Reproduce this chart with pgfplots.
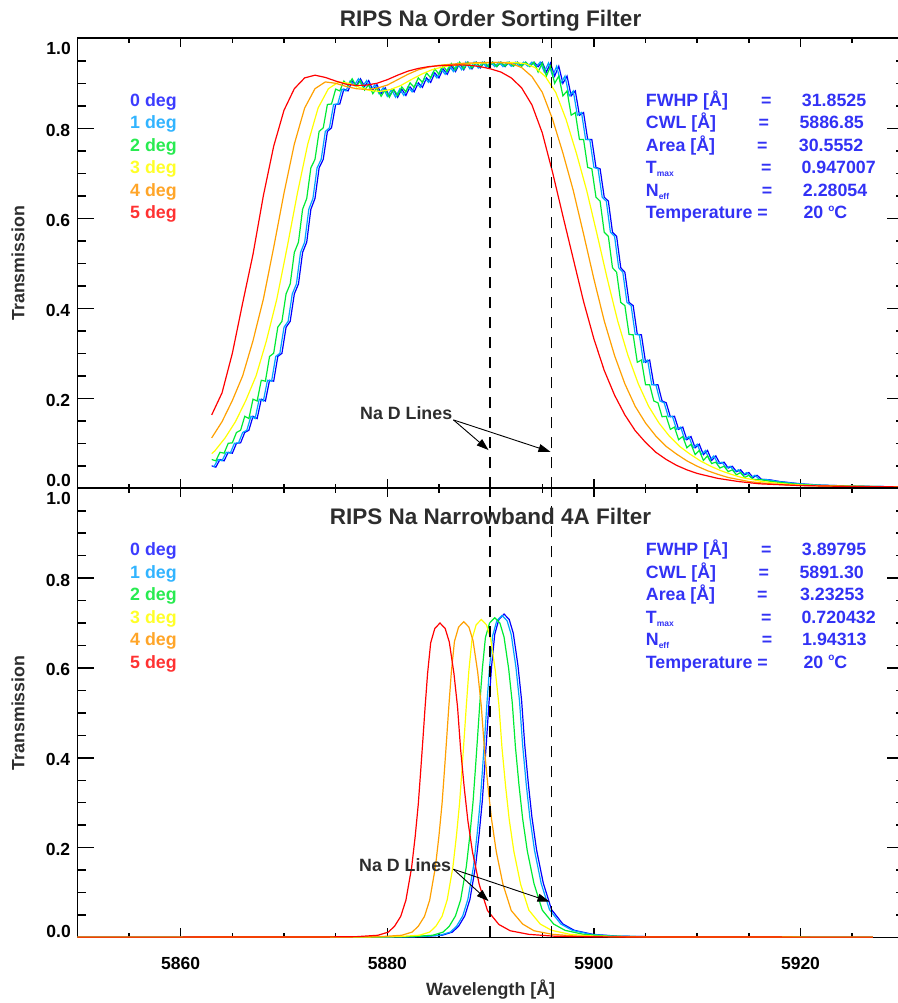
\documentclass[border=0pt]{standalone}
\usepackage{pgfplots}
\pgfplotsset{compat=1.18}
\usetikzlibrary{arrows.meta}
\usepackage{fontspec}
\setmainfont{Liberation Sans}
\definecolor{c0}{RGB}{0,0,255}
\definecolor{c1}{RGB}{0,165,255}
\definecolor{c2}{RGB}{0,235,50}
\definecolor{c3}{RGB}{255,255,0}
\definecolor{c4}{RGB}{255,160,0}
\definecolor{c5}{RGB}{255,0,0}
\definecolor{t0}{RGB}{60,60,255}
\definecolor{t1}{RGB}{50,180,255}
\definecolor{t2}{RGB}{40,235,80}
\definecolor{t3}{RGB}{255,255,40}
\definecolor{t4}{RGB}{255,165,40}
\definecolor{t5}{RGB}{255,50,50}
\definecolor{info}{RGB}{50,50,245}
\definecolor{dk}{RGB}{45,45,45}
\newcommand{\tfont}{\fontsize{17.5}{18}\selectfont\bfseries}
\newcommand{\lfont}{\fontsize{17.8}{19}\selectfont\bfseries}
\newcommand{\sfont}{\fontsize{8.5}{9}\selectfont\bfseries}
\newcommand{\degsym}{\raisebox{0.42em}{\fontsize{10}{10}\selectfont o}}

\pgfplotsset{
  rips/.style={
    scale only axis, width=826.4pt,
    xmin=5850, xmax=5930, ymin=0, ymax=1,
    clip=false,
    axis line style={line width=1.8pt, black},
    tick style={line width=1.5pt, black},
    major tick length=16.7pt, minor tick length=8.3pt,
    xtick style={/pgfplots/major tick length=9pt, /pgfplots/minor tick length=4.5pt},
    xtick={5860,5880,5900,5920},
    minor xtick={5855,5865,5870,5875,5885,5890,5895,5905,5910,5915,5925},
    ytick={0.2,0.4,0.6,0.8},
    yticklabels={0.2,0.4,0.6,0.8},
    minor ytick={0.05,0.1,0.15,0.25,0.3,0.35,0.45,0.5,0.55,0.65,0.7,0.75,0.85,0.9,0.95},
    yticklabel style={font=\tfont, inner sep=0pt, anchor=east, xshift=-7pt, yshift=-2pt},
    xticklabel style={font=\tfont, inner sep=0pt, anchor=base, yshift=-32.5pt},
    every axis plot/.append style={line width=1.2pt},
  }
}

\begin{document}
\begin{tikzpicture}[x=1pt,y=1pt]
\useasboundingbox (0,0) rectangle (897,1003);

% ---------------- Top panel ----------------
\begin{axis}[rips, at={(77.4pt,514.7pt)}, anchor=south west, height=450pt, xticklabels={}]
\addplot[c0] table {
5863.0 0.050
5863.4 0.047
5863.8 0.064
5864.2 0.061
5864.6 0.080
5865.0 0.078
5865.4 0.100
5865.8 0.101
5866.2 0.124
5866.6 0.129
5867.0 0.160
5867.4 0.155
5867.8 0.198
5868.2 0.194
5868.6 0.240
5869.0 0.238
5869.4 0.293
5869.8 0.300
5870.2 0.358
5870.6 0.371
5871.0 0.432
5871.4 0.454
5871.8 0.524
5872.2 0.547
5872.6 0.620
5873.0 0.644
5873.4 0.712
5873.8 0.731
5874.2 0.793
5874.6 0.801
5875.0 0.853
5875.4 0.854
5875.8 0.887
5876.2 0.883
5876.6 0.905
5877.0 0.895
5877.4 0.910
5877.8 0.893
5878.2 0.906
5878.6 0.885
5879.0 0.897
5879.4 0.877
5879.8 0.890
5880.2 0.871
5880.6 0.886
5881.0 0.869
5881.4 0.887
5881.8 0.873
5882.2 0.892
5882.6 0.881
5883.0 0.901
5883.4 0.891
5883.8 0.912
5884.2 0.902
5884.6 0.923
5885.0 0.912
5885.4 0.932
5885.8 0.920
5886.2 0.939
5886.6 0.926
5887.0 0.944
5887.4 0.930
5887.8 0.947
5888.2 0.932
5888.6 0.947
5889.0 0.934
5889.4 0.947
5889.8 0.936
5890.2 0.947
5890.6 0.937
5891.0 0.947
5891.4 0.937
5891.8 0.947
5892.2 0.938
5892.6 0.947
5893.0 0.938
5893.4 0.947
5893.8 0.938
5894.2 0.947
5894.6 0.937
5895.0 0.947
5895.4 0.925
5895.8 0.945
5896.2 0.916
5896.6 0.938
5897.0 0.900
5897.4 0.916
5897.8 0.872
5898.2 0.883
5898.6 0.829
5899.0 0.835
5899.4 0.775
5899.8 0.775
5900.2 0.713
5900.6 0.710
5901.0 0.647
5901.4 0.638
5901.8 0.569
5902.2 0.560
5902.6 0.490
5903.0 0.480
5903.4 0.413
5903.8 0.406
5904.2 0.342
5904.6 0.341
5905.0 0.280
5905.4 0.285
5905.8 0.230
5906.2 0.230
5906.6 0.194
5907.0 0.190
5907.4 0.159
5907.8 0.160
5908.2 0.131
5908.6 0.136
5909.0 0.108
5909.4 0.115
5909.8 0.090
5910.2 0.098
5910.6 0.075
5911.0 0.084
5911.4 0.062
5911.8 0.072
5912.2 0.055
5912.6 0.058
5913.0 0.045
5913.4 0.049
5913.8 0.037
5914.2 0.041
5914.6 0.030
5915.0 0.035
5915.4 0.024
5915.8 0.029
5916.2 0.020
5917.0 0.019
5918.0 0.015
5920.0 0.010
5922.0 0.007
5925.0 0.005
5930.0 0.003
};
\addplot[c1] table {
5863.2 0.047
5863.6 0.064
5864.0 0.061
5864.4 0.080
5864.8 0.078
5865.2 0.100
5865.6 0.101
5866.0 0.124
5866.4 0.129
5866.8 0.160
5867.2 0.155
5867.6 0.198
5868.0 0.194
5868.4 0.240
5868.8 0.238
5869.2 0.293
5869.6 0.300
5870.0 0.358
5870.4 0.371
5870.8 0.432
5871.2 0.454
5871.6 0.524
5872.0 0.547
5872.4 0.620
5872.8 0.644
5873.2 0.712
5873.6 0.731
5874.0 0.793
5874.4 0.801
5874.8 0.853
5875.2 0.854
5875.6 0.887
5876.0 0.883
5876.4 0.905
5876.8 0.895
5877.2 0.910
5877.6 0.893
5878.0 0.906
5878.4 0.885
5878.8 0.897
5879.2 0.877
5879.6 0.890
5880.0 0.871
5880.4 0.886
5880.8 0.869
5881.2 0.887
5881.6 0.873
5882.0 0.892
5882.4 0.881
5882.8 0.901
5883.2 0.891
5883.6 0.912
5884.0 0.902
5884.4 0.923
5884.8 0.912
5885.2 0.932
5885.6 0.920
5886.0 0.939
5886.4 0.926
5886.8 0.944
5887.2 0.930
5887.6 0.947
5888.0 0.932
5888.4 0.947
5888.8 0.934
5889.2 0.947
5889.6 0.936
5890.0 0.947
5890.4 0.937
5890.8 0.947
5891.2 0.937
5891.6 0.947
5892.0 0.938
5892.4 0.947
5892.8 0.938
5893.2 0.947
5893.6 0.938
5894.0 0.947
5894.4 0.937
5894.8 0.947
5895.2 0.925
5895.6 0.945
5896.0 0.916
5896.4 0.938
5896.8 0.900
5897.2 0.916
5897.6 0.872
5898.0 0.883
5898.4 0.829
5898.8 0.835
5899.2 0.775
5899.6 0.775
5900.0 0.713
5900.4 0.710
5900.8 0.647
5901.2 0.638
5901.6 0.569
5902.0 0.560
5902.4 0.490
5902.8 0.480
5903.2 0.413
5903.6 0.406
5904.0 0.342
5904.4 0.341
5904.8 0.280
5905.2 0.285
5905.6 0.230
5906.0 0.230
5906.4 0.194
5906.8 0.190
5907.2 0.159
5907.6 0.160
5908.0 0.131
5908.4 0.136
5908.8 0.108
5909.2 0.115
5909.6 0.090
5910.0 0.098
5910.4 0.075
5910.8 0.084
5911.2 0.062
5911.6 0.072
5912.0 0.055
5912.4 0.058
5912.8 0.045
5913.2 0.049
5913.6 0.037
5914.0 0.041
5914.4 0.030
5914.8 0.035
5915.2 0.024
5915.6 0.029
5916.0 0.020
5916.8 0.019
5917.8 0.015
5919.8 0.010
5921.8 0.007
5924.8 0.005
5930.0 0.003
};
\addplot[c2] table {
5863.0 0.064
5863.4 0.061
5863.8 0.080
5864.2 0.078
5864.6 0.100
5865.0 0.101
5865.4 0.124
5865.8 0.129
5866.2 0.160
5866.6 0.155
5867.0 0.198
5867.4 0.194
5867.8 0.240
5868.2 0.238
5868.6 0.293
5869.0 0.300
5869.4 0.358
5869.8 0.371
5870.2 0.432
5870.6 0.454
5871.0 0.524
5871.4 0.547
5871.8 0.620
5872.2 0.644
5872.6 0.712
5873.0 0.731
5873.4 0.793
5873.8 0.801
5874.2 0.853
5874.6 0.854
5875.0 0.887
5875.4 0.883
5875.8 0.905
5876.2 0.895
5876.6 0.910
5877.0 0.893
5877.4 0.906
5877.8 0.885
5878.2 0.897
5878.6 0.877
5879.0 0.890
5879.4 0.871
5879.8 0.886
5880.2 0.869
5880.6 0.887
5881.0 0.873
5881.4 0.892
5881.8 0.881
5882.2 0.901
5882.6 0.891
5883.0 0.912
5883.4 0.902
5883.8 0.923
5884.2 0.912
5884.6 0.932
5885.0 0.920
5885.4 0.939
5885.8 0.926
5886.2 0.944
5886.6 0.930
5887.0 0.947
5887.4 0.932
5887.8 0.947
5888.2 0.934
5888.6 0.947
5889.0 0.936
5889.4 0.947
5889.8 0.937
5890.2 0.947
5890.6 0.937
5891.0 0.947
5891.4 0.938
5891.8 0.947
5892.2 0.938
5892.6 0.947
5893.0 0.938
5893.4 0.947
5893.8 0.937
5894.2 0.947
5894.6 0.925
5895.0 0.945
5895.4 0.916
5895.8 0.938
5896.2 0.900
5896.6 0.916
5897.0 0.872
5897.4 0.883
5897.8 0.829
5898.2 0.835
5898.6 0.775
5899.0 0.775
5899.4 0.713
5899.8 0.710
5900.2 0.647
5900.6 0.638
5901.0 0.569
5901.4 0.560
5901.8 0.490
5902.2 0.480
5902.6 0.413
5903.0 0.406
5903.4 0.342
5903.8 0.341
5904.2 0.280
5904.6 0.285
5905.0 0.230
5905.4 0.230
5905.8 0.194
5906.2 0.190
5906.6 0.159
5907.0 0.160
5907.4 0.131
5907.8 0.136
5908.2 0.108
5908.6 0.115
5909.0 0.090
5909.4 0.098
5909.8 0.075
5910.2 0.084
5910.6 0.062
5911.0 0.072
5911.4 0.055
5911.8 0.058
5912.2 0.045
5912.6 0.049
5913.0 0.037
5913.4 0.041
5913.8 0.030
5914.2 0.035
5914.6 0.024
5915.0 0.029
5915.4 0.020
5916.2 0.019
5917.2 0.015
5919.2 0.010
5921.2 0.007
5924.2 0.005
5930.0 0.003
};
\addplot[c3] table {
5863.0 0.077
5863.3 0.083
5864.3 0.112
5865.3 0.148
5866.3 0.195
5867.3 0.250
5868.3 0.328
5869.3 0.420
5870.3 0.535
5871.3 0.656
5872.3 0.765
5873.3 0.845
5874.3 0.888
5875.3 0.903
5876.3 0.900
5877.3 0.891
5878.3 0.884
5879.3 0.882
5880.3 0.886
5881.3 0.895
5882.3 0.908
5883.3 0.920
5884.3 0.930
5885.3 0.936
5886.3 0.940
5887.3 0.942
5888.3 0.944
5890.3 0.946
5892.3 0.946
5893.3 0.944
5894.3 0.935
5895.3 0.915
5896.3 0.880
5897.3 0.820
5898.3 0.745
5899.3 0.662
5900.3 0.565
5901.3 0.465
5902.3 0.372
5903.3 0.295
5904.3 0.232
5905.3 0.182
5906.3 0.145
5907.3 0.116
5908.3 0.093
5909.3 0.076
5910.3 0.061
5911.3 0.049
5912.3 0.039
5913.3 0.031
5914.3 0.024
5916.3 0.015
5918.3 0.010
5920.3 0.007
5923.3 0.005
5930.0 0.003
};
\addplot[c4] table {
5863.0 0.112
5864.0 0.148
5865.0 0.195
5866.0 0.250
5867.0 0.328
5868.0 0.420
5869.0 0.535
5870.0 0.656
5871.0 0.765
5872.0 0.845
5873.0 0.888
5874.0 0.903
5875.0 0.900
5876.0 0.893
5877.0 0.888
5878.0 0.886
5879.0 0.889
5880.0 0.896
5881.0 0.908
5882.0 0.920
5883.0 0.930
5884.0 0.936
5885.0 0.940
5886.0 0.942
5887.0 0.944
5889.0 0.946
5891.0 0.946
5892.0 0.944
5893.0 0.935
5894.0 0.915
5895.0 0.880
5896.0 0.820
5897.0 0.745
5898.0 0.662
5899.0 0.565
5900.0 0.465
5901.0 0.372
5902.0 0.295
5903.0 0.232
5904.0 0.182
5905.0 0.145
5906.0 0.116
5907.0 0.093
5908.0 0.076
5909.0 0.061
5910.0 0.049
5911.0 0.039
5912.0 0.031
5913.0 0.024
5915.0 0.015
5917.0 0.010
5919.0 0.007
5922.0 0.005
5930.0 0.003
};
\addplot[c5] table {
5863.0 0.163
5864.0 0.212
5865.0 0.300
5866.0 0.412
5867.0 0.520
5868.0 0.650
5869.0 0.760
5870.0 0.840
5871.0 0.888
5872.0 0.912
5873.0 0.918
5874.0 0.913
5875.0 0.905
5876.0 0.898
5877.0 0.895
5878.0 0.896
5879.0 0.900
5880.0 0.908
5881.0 0.918
5882.0 0.927
5883.0 0.933
5884.0 0.937
5885.0 0.939
5886.0 0.940
5887.0 0.941
5888.0 0.940
5889.0 0.937
5890.0 0.932
5891.0 0.925
5892.0 0.912
5893.0 0.890
5894.0 0.852
5895.0 0.790
5896.0 0.702
5897.0 0.605
5898.0 0.510
5899.0 0.415
5900.0 0.332
5901.0 0.262
5902.0 0.207
5903.0 0.163
5904.0 0.128
5905.0 0.102
5906.0 0.080
5907.0 0.064
5908.0 0.051
5909.0 0.041
5910.0 0.033
5912.0 0.022
5914.0 0.015
5916.0 0.010
5920.0 0.006
5925.0 0.004
5930.0 0.003
};
\addplot[black, line width=1.3pt, dash pattern=on 11.5pt off 8.5pt] coordinates {(5889.95,0) (5889.95,1)};
\addplot[black, line width=1.3pt, dash pattern=on 11.5pt off 8.5pt] coordinates {(5895.92,0) (5895.92,1)};
\node[font=\lfont, text=dk, anchor=base east, inner sep=0pt] at (axis cs:5886.3,0.153) {Na D Lines};
\draw[line width=0.9pt, -{Triangle[length=12pt,width=8pt]}] (axis cs:5886.4,0.152) -- (axis cs:5889.8,0.085);
\draw[line width=0.9pt, -{Triangle[length=12pt,width=8pt]}] (axis cs:5886.4,0.152) -- (axis cs:5895.8,0.081);
\end{axis}

% ---------------- Bottom panel ----------------
\begin{axis}[rips, at={(77.4pt,65.5pt)}, anchor=south west, height=449.2pt, xticklabels={5860,5880,5900,5920}]
\addplot[c0] table {
5850.0 0.0008
5879.3 0.001
5883.3 0.002
5885.3 0.005
5886.3 0.012
5886.9 0.025
5887.5 0.048
5888.0 0.085
5888.55 0.160
5888.9 0.232
5889.2 0.305
5889.43 0.380
5889.65 0.455
5889.85 0.525
5890.1 0.605
5890.4 0.675
5890.8 0.708
5891.3 0.720
5891.8 0.708
5892.2 0.677
5892.65 0.605
5893.0 0.528
5893.3 0.430
5893.65 0.343
5894.0 0.268
5894.45 0.195
5895.1 0.121
5895.9 0.062
5897.0 0.030
5898.1 0.016
5899.9 0.007
5902.3 0.003
5906.3 0.0015
5913.3 0.001
5927.0 0.0008
};
\addplot[c1] table {
5850.0 0.0008
5879.1 0.001
5883.1 0.002
5885.1 0.005
5886.1 0.012
5886.7 0.025
5887.3 0.048
5887.8 0.085
5888.35 0.159
5888.7 0.231
5889.0 0.304
5889.23 0.379
5889.45 0.453
5889.65 0.523
5889.9 0.602
5890.2 0.672
5890.6 0.705
5891.1 0.717
5891.6 0.705
5892.0 0.674
5892.45 0.602
5892.8 0.526
5893.1 0.428
5893.45 0.341
5893.8 0.267
5894.25 0.194
5894.9 0.120
5895.7 0.062
5896.8 0.030
5897.9 0.016
5899.7 0.007
5902.1 0.003
5906.1 0.0015
5913.1 0.001
5927.0 0.0008
};
\addplot[c2] table {
5850.0 0.0008
5878.4 0.001
5882.4 0.002
5884.4 0.005
5885.4 0.012
5886.0 0.025
5886.6 0.048
5887.1 0.084
5887.65 0.158
5888.0 0.229
5888.3 0.302
5888.53 0.376
5888.75 0.450
5888.95 0.519
5889.2 0.598
5889.5 0.668
5889.9 0.700
5890.4 0.712
5890.9 0.700
5891.3 0.669
5891.75 0.598
5892.1 0.522
5892.4 0.425
5892.75 0.339
5893.1 0.265
5893.55 0.193
5894.2 0.120
5895.0 0.061
5896.1 0.030
5897.2 0.016
5899.0 0.007
5901.4 0.003
5905.4 0.0015
5912.4 0.001
5927.0 0.0008
};
\addplot[c3] table {
5850.0 0.0008
5877.1 0.001
5881.1 0.002
5883.1 0.005
5884.1 0.012
5884.7 0.025
5885.3 0.047
5885.8 0.084
5886.35 0.157
5886.7 0.228
5887.0 0.300
5887.23 0.374
5887.45 0.447
5887.65 0.516
5887.9 0.595
5888.2 0.664
5888.6 0.696
5889.1 0.708
5889.6 0.696
5890.0 0.666
5890.45 0.595
5890.8 0.519
5891.1 0.423
5891.45 0.337
5891.8 0.263
5892.25 0.192
5892.9 0.119
5893.7 0.061
5894.8 0.030
5895.9 0.016
5897.7 0.007
5900.1 0.003
5904.1 0.0015
5911.1 0.001
5927.0 0.0008
};
\addplot[c4] table {
5850.0 0.0008
5875.4 0.001
5879.4 0.002
5881.4 0.005
5882.4 0.012
5883.0 0.025
5883.6 0.047
5884.1 0.083
5884.65 0.156
5885.0 0.226
5885.3 0.298
5885.53 0.371
5885.75 0.444
5885.95 0.512
5886.2 0.591
5886.5 0.659
5886.9 0.691
5887.4 0.703
5887.9 0.691
5888.3 0.661
5888.75 0.591
5889.1 0.515
5889.4 0.420
5889.75 0.335
5890.1 0.262
5890.55 0.191
5891.2 0.118
5892.0 0.060
5893.1 0.030
5894.2 0.015
5896.0 0.007
5898.4 0.003
5902.4 0.0015
5909.4 0.001
5927.0 0.0008
};
\addplot[c5] table {
5850.0 0.0008
5873.1 0.001
5877.1 0.002
5879.1 0.005
5880.1 0.012
5880.7 0.025
5881.3 0.047
5881.8 0.083
5882.35 0.155
5882.7 0.225
5883.0 0.297
5883.23 0.370
5883.45 0.442
5883.65 0.510
5883.9 0.588
5884.2 0.656
5884.6 0.688
5885.1 0.700
5885.6 0.688
5886.0 0.658
5886.45 0.588
5886.8 0.513
5887.1 0.418
5887.45 0.333
5887.8 0.260
5888.25 0.190
5888.9 0.118
5889.7 0.060
5890.8 0.029
5891.9 0.015
5893.7 0.007
5896.1 0.003
5900.1 0.0015
5907.1 0.001
5927.0 0.0008
};
\addplot[black, line width=1.3pt, dash pattern=on 11.5pt off 8.5pt] coordinates {(5889.95,0) (5889.95,1)};
\addplot[black, line width=1.3pt, dash pattern=on 11.5pt off 8.5pt] coordinates {(5895.92,0) (5895.92,1)};
\node[font=\lfont, text=dk, anchor=base east, inner sep=0pt] at (axis cs:5886.2,0.146) {Na D Lines};
\draw[line width=0.9pt, -{Triangle[length=12pt,width=8pt]}] (axis cs:5886.4,0.152) -- (axis cs:5889.8,0.081);
\draw[line width=0.9pt, -{Triangle[length=12pt,width=8pt]}] (axis cs:5886.4,0.152) -- (axis cs:5895.7,0.080);
\end{axis}

% ---------------- end tick labels ----------------
\node[font=\tfont, anchor=east, inner sep=0pt] at (71,955) {1.0};
\node[font=\tfont, anchor=east, inner sep=0pt] at (71,522.8) {0.0};
\node[font=\tfont, anchor=east, inner sep=0pt] at (71,504.6) {1.0};
\node[font=\tfont, anchor=east, inner sep=0pt] at (71,72) {0.0};

% ---------------- titles and axis labels ----------------
\node[font=\fontsize{22.5}{24}\selectfont\bfseries, text=dk, anchor=base, inner sep=0pt] at (490.6,976.8) {RIPS Na Order Sorting Filter};
\node[font=\fontsize{22.5}{24}\selectfont\bfseries, text=dk, anchor=base, inner sep=0pt] at (490.6,478.8) {RIPS Na Narrowband 4A Filter};
\node[font=\lfont, text=dk, rotate=90, inner sep=0pt] at (18,739.7) {Transmission};
\node[font=\lfont, text=dk, rotate=90, inner sep=0pt] at (18,290.1) {Transmission};
\node[font=\lfont, text=dk, anchor=base, inner sep=0pt] at (490.6,7) {Wavelength [Å]};

% ---------------- legends ----------------
\begin{scope}[every node/.style={font=\lfont, anchor=base west, inner sep=0pt}]
\node[text=t0] at (130,896.6) {0 deg};
\node[text=t1] at (130,874.1) {1 deg};
\node[text=t2] at (130,851.6) {2 deg};
\node[text=t3] at (130,829.1) {3 deg};
\node[text=t4] at (130,806.6) {4 deg};
\node[text=t5] at (130,784.1) {5 deg};
\node[text=t0] at (130,447.1) {0 deg};
\node[text=t1] at (130,424.6) {1 deg};
\node[text=t2] at (130,402.1) {2 deg};
\node[text=t3] at (130,379.6) {3 deg};
\node[text=t4] at (130,357.1) {4 deg};
\node[text=t5] at (130,334.6) {5 deg};
% info top
\node[text=info] at (645.7,896.6) {FWHP [Å]};
\node[text=info] at (645.7,874.1) {CWL [Å]};
\node[text=info] at (645.7,851.6) {Area [Å]};
\node[text=info] at (645.7,829.1) {T\raisebox{-3pt}{\sfont max}};
\node[text=info] at (645.7,806.6) {N\raisebox{-3pt}{\sfont eff}};
\node[text=info] at (645.7,784.1) {Temperature =};
\node[text=info] at (760.8,896.6) {=};
\node[text=info] at (758.3,874.1) {=};
\node[text=info] at (757.0,851.6) {=};
\node[text=info] at (760.8,829.1) {=};
\node[text=info] at (761.7,806.6) {=};
\node[text=info] at (801.7,896.6) {31.8525};
\node[text=info] at (799.3,874.1) {5886.85};
\node[text=info] at (798.7,851.6) {30.5552};
\node[text=info] at (801.3,829.1) {0.947007};
\node[text=info] at (802.7,806.6) {2.28054};
\node[text=info] at (803.3,784.1) {20 \degsym C};
% info bottom
\node[text=info] at (645.7,447.1) {FWHP [Å]};
\node[text=info] at (645.7,424.6) {CWL [Å]};
\node[text=info] at (645.7,402.1) {Area [Å]};
\node[text=info] at (645.7,379.6) {T\raisebox{-3pt}{\sfont max}};
\node[text=info] at (645.7,357.1) {N\raisebox{-3pt}{\sfont eff}};
\node[text=info] at (645.7,334.6) {Temperature =};
\node[text=info] at (760.8,447.1) {=};
\node[text=info] at (758.3,424.6) {=};
\node[text=info] at (757.0,402.1) {=};
\node[text=info] at (760.8,379.6) {=};
\node[text=info] at (761.7,357.1) {=};
\node[text=info] at (801.7,447.1) {3.89795};
\node[text=info] at (799.3,424.6) {5891.30};
\node[text=info] at (799.8,402.1) {3.23253};
\node[text=info] at (801.3,379.6) {0.720432};
\node[text=info] at (802.0,357.1) {1.94313};
\node[text=info] at (803.3,334.6) {20 \degsym C};
\end{scope}
\end{tikzpicture}
\end{document}
